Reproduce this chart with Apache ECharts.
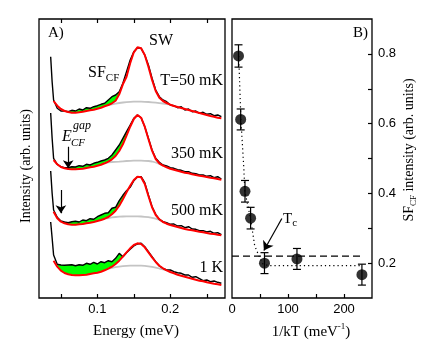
<!DOCTYPE html>
<html>
<head>
<meta charset="utf-8">
<script src="https://cdn.jsdelivr.net/npm/echarts@6/dist/echarts.min.js"></script>
<style>
  html, body { margin: 0; padding: 0; background: #fff; }
  #chart { width: 436px; height: 357px; }
</style>
</head>
<body>
<div id="chart"></div>
<script>
// ---- panel A : spectra (energy in meV, intensity in arb. units, already offset) ----
const energy = [0.036, 0.038, 0.040, 0.045, 0.050, 0.055, 0.060, 0.065, 0.070, 0.075,
  0.080, 0.085, 0.090, 0.095, 0.100, 0.105, 0.110, 0.115, 0.120, 0.125,
  0.130, 0.135, 0.140, 0.145, 0.150, 0.155, 0.160, 0.165, 0.170, 0.175,
  0.180, 0.185, 0.190, 0.195, 0.200, 0.205, 0.210, 0.215, 0.220, 0.225,
  0.230, 0.235, 0.240, 0.245, 0.250, 0.255, 0.260, 0.265, 0.270]

const data50mK = [243.3, 218.3, 200, 191.7, 189, 189, 188.3, 189.7, 189, 191,
  190, 192.3, 191.7, 193.3, 194.3, 195.7, 196.7, 200, 203.3, 205,
  208.3, 216.7, 228.3, 240, 248.3, 252.3, 251.7, 245, 235, 221.7,
  210, 203.3, 200, 198.3, 195, 194.3, 192.3, 193.3, 190, 191,
  188.3, 189, 186.7, 187.7, 185.7, 186.3, 184.3, 185, 183.3]
const fit50mK = [null, null, 199, 194.3, 191, 189, 188, 187.3, 187.3, 187.7,
  188.3, 189, 189.7, 190.3, 191.3, 192.3, 193.7, 195, 196.7, 199.3,
  205.7, 215.7, 223.3, 236.7, 247.7, 252.7, 251.7, 245, 233.3, 220,
  209, 202.3, 199, 197, 195.3, 194, 193, 192, 191, 190,
  189, 188, 187, 186, 185, 184, 183.3, 182.3, 181.7]
const bg50mK = [195, 195.7, 196.3, 197, 197.5, 197.9, 198.2, 198.3, 198.4, 198.3,
  198.2, 198, 197.7, 197.3, 196.9, 196.5, 196, 195.3]

const data350mK = [187, 161.7, 141.7, 135.7, 133.3, 132.3, 132.3, 133.3, 133, 134.3,
  133.7, 135.7, 135, 136.7, 137.7, 139, 140, 141.7, 145, 150,
  155, 161.7, 168.3, 175, 181.7, 185, 182.3, 173.3, 161.7, 150,
  141.7, 137.7, 135, 134, 132.3, 131.7, 130.3, 129.7, 128.3, 128.3,
  126.7, 126.3, 125, 125, 123.7, 124.3, 122.3, 123.3, 121]
const fit350mK = [null, null, 140, 135.7, 133, 131.7, 131, 130.7, 130.7, 131,
  131.3, 132, 132.7, 133.3, 134.3, 135.3, 136.7, 138.3, 140.7, 144,
  149, 155.7, 164.3, 173.3, 181, 185, 182.3, 173.3, 161, 149.3,
  141, 136.7, 134.3, 132.7, 131.3, 130.3, 129.3, 128.3, 127.3, 126.7,
  125.7, 125, 124.3, 123.7, 123, 122.3, 121.7, 121, 120.3]
const bg350mK = [136.7, 137.7, 138, 138.2, 138.4, 138.7, 139, 139.2, 139.3, 139.4,
  139.3, 139.2, 139, 138.5, 137.5, 136, 134.3]

const data500mK = [129, 106.7, 90, 82.7, 79, 78, 77.3, 78.3, 78.7, 78,
  80, 79.3, 81.3, 80.7, 83.3, 85, 86.7, 87.3, 91.7, 92.7,
  99.3, 104.7, 109.3, 112.7, 119.3, 123.3, 123.3, 117.3, 105, 93.3,
  85.7, 80.7, 78.3, 77.3, 75.7, 76, 74, 74.3, 72.3, 73.3,
  71, 70.7, 69.3, 69.3, 68, 68.7, 66.7, 67.3, 65.3]
const fit500mK = [null, null, 88.3, 81.7, 78.3, 76.7, 75.7, 75.3, 75.3, 75.7,
  76, 76.7, 77.3, 78, 79, 80, 81.3, 83, 85.7, 89.3,
  94.3, 100.7, 107.7, 114.3, 120, 123.3, 122.7, 116, 104, 92.7,
  85, 80.7, 78, 76.3, 75, 74, 73, 72, 71, 70.3,
  69.7, 69, 68.3, 67.7, 67, 66.3, 66, 65.3, 64.7]
const bg500mK = [81.3, 82, 82.6, 83, 83.3, 83.5, 83.6, 83.7, 83.7, 83.6,
  83.5, 83.2, 82.8, 82.2, 81.3, 80, 78]

const data1K = [78, 62, 45, 35.7, 35, 34.7, 35, 35.3, 34.3, 35.3,
  34.7, 36.7, 35.7, 37.7, 36, 38.3, 37.3, 39.3, 38.3, 41.7,
  46.7, 43.3, 47.3, 50.7, 54, 56, 56.7, 53.3, 48.3, 43.3,
  38.3, 34, 31.7, 30, 30, 28.3, 27.3, 26.7, 25, 25,
  22.7, 23.3, 21.3, 19.3, 20, 18.3, 19, 17.7, 16.7]
const fit1K = [null, null, 39.3, 33.3, 29.3, 27, 25.7, 25, 24.7, 24.7,
  25, 25.3, 26, 26.7, 27.3, 28.3, 29.7, 31.3, 33.3, 36,
  39.3, 43.3, 47.7, 51.7, 55, 56.7, 56, 52.7, 47.7, 42.7,
  38, 34.3, 31.7, 29.7, 28, 26.7, 25.3, 24.3, 23.3, 22.3,
  21.3, 20.3, 19.3, 18.7, 17.7, 17, 16.3, 15.7, 15]
const bg1K = [31.3, 32.2, 32.9, 33.4, 33.8, 34.1, 34.3, 34.4, 34.4, 34.3,
  34.1, 33.7, 33.1, 32.4, 31.5, 30.7, 29.7]

// background start energies and the SF_CF (green) energy windows
const bgFrom = [0.115, 0.110, 0.110, 0.115]
const greenFrom = [0.050, 0.045, 0.045, 0.045]
const greenTo = [0.135, 0.145, 0.140, 0.135]

// E_CF^gap arrows (energy, intensity from -> to)
const gapArrowE = [0.060, 0.050]
const gapArrowFrom = [153.3, 110]
const gapArrowTo = [131.7, 86.7]

// ---- panel B : SF_CF intensity vs 1/kT ----
const invT = [11.6, 15.5, 23.2, 33.2, 58, 116, 232]
const sfInt = [0.794, 0.612, 0.406, 0.329, 0.2, 0.212, 0.167]
const sfErr = [0.032, 0.03, 0.031, 0.031, 0.03, 0.03, 0.03]
const guideX = [12, 15.9, 21.2, 22.9, 33, 40.5, 48, 55, 65, 232]
const guideY = [0.794, 0.612, 0.47, 0.406, 0.329, 0.25, 0.221, 0.198, 0.193, 0.193]
const levelX = [0, 232]
const levelY = [0.22, 0.22]
const tcArrowFrom = [89, 0.328]
const tcArrowTo = [57, 0.236]

const SERIF = '"Liberation Serif", "DejaVu Serif", serif'
const SANS = '"Liberation Sans", Arial, sans-serif'

const spectra = [
  { data: data50mK, fit: fit50mK, bg: bg50mK },
  { data: data350mK, fit: fit350mK, bg: bg350mK },
  { data: data500mK, fit: fit500mK, bg: bg500mK },
  { data: data1K, fit: fit1K, bg: bg1K }
]

const idxOf = (e) => energy.findIndex(v => Math.abs(v - e) < 1e-6)

const chart = echarts.init(document.getElementById('chart'), null, { renderer: 'canvas' })

const series = []

// grey backgrounds
spectra.forEach((s, k) => {
  const i0 = idxOf(bgFrom[k])
  series.push({
    type: 'line', xAxisIndex: 0, yAxisIndex: 0,
    data: s.bg.map((v, i) => [energy[i0 + i], v]),
    symbol: 'none', silent: true,
    lineStyle: { color: '#c4c4c4', width: 1.8 }
  })
})

// green SF_CF area between data and fit
series.push({
  type: 'custom', xAxisIndex: 0, yAxisIndex: 0,
  data: spectra.map((s, k) => [greenFrom[k], s.fit[idxOf(greenFrom[k])]]),
  encode: { x: 0, y: 1 },
  silent: true,
  renderItem: (params, api) => {
    const k = params.dataIndex
    const s = spectra[k]
    const i0 = idxOf(greenFrom[k])
    const i1 = idxOf(greenTo[k])
    const top = []
    const bot = []
    for (let i = i0; i <= i1; i++) {
      top.push(api.coord([energy[i], Math.max(s.data[i], s.fit[i])]))
      bot.push(api.coord([energy[i], s.fit[i]]))
    }
    return {
      type: 'polygon',
      shape: { points: top.concat(bot.reverse()) },
      style: { fill: '#00ff00', stroke: null }
    }
  }
})

// measured spectra (black)
spectra.forEach(s => {
  series.push({
    type: 'line', xAxisIndex: 0, yAxisIndex: 0,
    data: energy.map((e, i) => [e, s.data[i]]),
    symbol: 'none', silent: true,
    lineStyle: { color: '#000', width: 1.4 }
  })
})

// fits (red)
spectra.forEach(s => {
  series.push({
    type: 'line', xAxisIndex: 0, yAxisIndex: 0,
    data: energy.map((e, i) => [e, s.fit[i]]),
    symbol: 'none', silent: true,
    lineStyle: { color: '#ff0000', width: 2 }
  })
})

// gap arrows
series.push({
  type: 'lines', coordinateSystem: 'cartesian2d', xAxisIndex: 0, yAxisIndex: 0,
  data: gapArrowE.map((e, i) => ({ coords: [[e, gapArrowFrom[i]], [e, gapArrowTo[i]]] })),
  symbol: ['none', 'arrow'], symbolSize: [6, 8], silent: true,
  lineStyle: { color: '#000', width: 1.2, opacity: 1 }
})

// panel B
series.push({
  type: 'line', xAxisIndex: 1, yAxisIndex: 1,
  data: levelX.map((x, i) => [x, levelY[i]]),
  symbol: 'none', silent: true,
  lineStyle: { color: '#000', width: 1.2, type: [7, 4] }
})
series.push({
  type: 'line', xAxisIndex: 1, yAxisIndex: 1,
  data: guideX.map((x, i) => [x, guideY[i]]),
  symbol: 'none', silent: true,
  lineStyle: { color: '#000', width: 1.2, type: [1.2, 3] }
})
series.push({
  type: 'custom', xAxisIndex: 1, yAxisIndex: 1,
  data: invT.map((x, i) => [x, sfInt[i], sfErr[i]]),
  encode: { x: 0, y: 1 },
  silent: true,
  renderItem: (params, api) => {
    const x = api.value(0), y = api.value(1), e = api.value(2)
    const hi = api.coord([x, y + e])
    const lo = api.coord([x, y - e])
    const w = 4
    const st = { stroke: '#000', lineWidth: 1.2 }
    return {
      type: 'group',
      children: [
        { type: 'line', shape: { x1: hi[0], y1: hi[1], x2: lo[0], y2: lo[1] }, style: st },
        { type: 'line', shape: { x1: hi[0] - w, y1: hi[1], x2: hi[0] + w, y2: hi[1] }, style: st },
        { type: 'line', shape: { x1: lo[0] - w, y1: lo[1], x2: lo[0] + w, y2: lo[1] }, style: st }
      ]
    }
  }
})
series.push({
  type: 'scatter', xAxisIndex: 1, yAxisIndex: 1,
  data: invT.map((x, i) => [x, sfInt[i]]),
  symbol: 'circle', symbolSize: 11, silent: true,
  itemStyle: { color: '#000' }
})
series.push({
  type: 'lines', coordinateSystem: 'cartesian2d', xAxisIndex: 1, yAxisIndex: 1,
  data: [{ coords: [tcArrowFrom, tcArrowTo] }],
  symbol: ['none', 'arrow'], symbolSize: [6, 9], silent: true,
  lineStyle: { color: '#000', width: 1.2, opacity: 1 }
})

const tickStyle = { show: true, inside: true, length: 4, lineStyle: { color: '#000', width: 1.2 } }
const labelStyle = { color: '#000', fontFamily: SANS, fontSize: 13 }
const noLine = { show: false, onZero: false }

const option = {
  animation: false,
  backgroundColor: '#fff',
  grid: [
    { left: 39, top: 19, width: 186, height: 279, show: true, borderColor: '#000', borderWidth: 1.3 },
    { left: 232, top: 19, width: 140, height: 279, show: true, borderColor: '#000', borderWidth: 1.3 }
  ],
  xAxis: [
    {
      type: 'value', gridIndex: 0, min: 0.02, max: 0.275,
      axisLine: noLine, splitLine: { show: false },
      axisTick: Object.assign({}, tickStyle, { customValues: [0.05, 0.1, 0.15, 0.2, 0.25] }),
      axisLabel: Object.assign({}, labelStyle, { margin: 5, customValues: [0.1, 0.2], formatter: v => v.toFixed(1) })
    },
    {
      type: 'value', gridIndex: 1, min: 0, max: 250,
      axisLine: noLine, splitLine: { show: false },
      axisTick: Object.assign({}, tickStyle, { customValues: [50, 100, 150, 200] }),
      axisLabel: Object.assign({}, labelStyle, { margin: 5, customValues: [0, 100, 200] })
    },
    {
      type: 'value', gridIndex: 0, position: 'top', min: 0.02, max: 0.275,
      axisLine: noLine, splitLine: { show: false },
      axisTick: Object.assign({}, tickStyle, { customValues: [0.05, 0.1, 0.15, 0.2, 0.25] }),
      axisLabel: { show: false }
    }
  ],
  yAxis: [
    {
      type: 'value', gridIndex: 0, min: 2, max: 281,
      axisLine: noLine, splitLine: { show: false },
      axisTick: { show: false }, axisLabel: { show: false }
    },
    {
      type: 'value', gridIndex: 1, position: 'right', min: 0.1, max: 0.9,
      axisLine: noLine, splitLine: { show: false },
      axisTick: Object.assign({}, tickStyle, { customValues: [0.2, 0.3, 0.4, 0.5, 0.6, 0.7, 0.8] }),
      axisLabel: Object.assign({}, labelStyle, { margin: 6, customValues: [0.2, 0.4, 0.6, 0.8], formatter: v => v.toFixed(1) })
    }
  ],
  graphic: [
    { type: 'text', x: 48, y: 33, style: { text: 'A)', fontFamily: SERIF, fontSize: 15, fill: '#000', verticalAlign: 'middle' } },
    { type: 'text', x: 368, y: 33, style: { text: 'B)', fontFamily: SERIF, fontSize: 15, fill: '#000', align: 'right', verticalAlign: 'middle' } },
    { type: 'text', x: 161, y: 41, style: { text: 'SW', fontFamily: SERIF, fontSize: 16, fill: '#000', align: 'center', verticalAlign: 'middle' } },
    {
      type: 'text', x: 88, y: 73,
      style: {
        text: '{m|SF}{s|CF}', verticalAlign: 'middle',
        rich: {
          m: { fontFamily: SERIF, fontSize: 16, lineHeight: 22, fill: '#000' },
          s: { fontFamily: SERIF, fontSize: 11, lineHeight: 11, verticalAlign: 'bottom', fill: '#000' }
        }
      }
    },
    { type: 'text', x: 223, y: 81, style: { text: 'T=50 mK', fontFamily: SERIF, fontSize: 16, fill: '#000', align: 'right', verticalAlign: 'middle' } },
    { type: 'text', x: 223, y: 154, style: { text: '350 mK', fontFamily: SERIF, fontSize: 16, fill: '#000', align: 'right', verticalAlign: 'middle' } },
    { type: 'text', x: 223, y: 211, style: { text: '500 mK', fontFamily: SERIF, fontSize: 16, fill: '#000', align: 'right', verticalAlign: 'middle' } },
    { type: 'text', x: 223, y: 268, style: { text: '1 K', fontFamily: SERIF, fontSize: 16, fill: '#000', align: 'right', verticalAlign: 'middle' } },
    { type: 'text', x: 62, y: 137, style: { text: 'E', fontFamily: SERIF, fontStyle: 'italic', fontSize: 16, fill: '#000', verticalAlign: 'middle' } },
    { type: 'text', x: 73, y: 126, style: { text: 'gap', fontFamily: SERIF, fontStyle: 'italic', fontSize: 12, fill: '#000', verticalAlign: 'middle' } },
    { type: 'text', x: 71, y: 143, style: { text: 'CF', fontFamily: SERIF, fontStyle: 'italic', fontSize: 11, fill: '#000', verticalAlign: 'middle' } },
    {
      type: 'text', x: 283, y: 219,
      style: {
        text: '{m|T}{s|c}', verticalAlign: 'middle',
        rich: {
          m: { fontFamily: SERIF, fontSize: 15, lineHeight: 20, fill: '#000' },
          s: { fontFamily: SERIF, fontSize: 11, lineHeight: 11, verticalAlign: 'bottom', fill: '#000' }
        }
      }
    },
    { type: 'text', x: 136, y: 331, style: { text: 'Energy (meV)', fontFamily: SERIF, fontSize: 15, fill: '#000', align: 'center', verticalAlign: 'middle' } },
    {
      type: 'text', x: 311, y: 332,
      style: {
        text: '{m|1/kT (meV}{s|-1}{m|)}', align: 'center', verticalAlign: 'middle',
        rich: {
          m: { fontFamily: SERIF, fontSize: 15, lineHeight: 20, fill: '#000' },
          s: { fontFamily: SERIF, fontSize: 9, lineHeight: 9, verticalAlign: 'top', fill: '#000' }
        }
      }
    },
    { type: 'text', x: 26, y: 166, rotation: Math.PI / 2, style: { text: 'Intensity (arb. units)', fontFamily: SERIF, fontSize: 14, fill: '#000', align: 'center', verticalAlign: 'middle' } },
    {
      type: 'text', x: 409, y: 150, rotation: Math.PI / 2,
      style: {
        text: '{m|SF}{s|CF}{m| intensity (arb. units)}', align: 'center', verticalAlign: 'middle',
        rich: {
          m: { fontFamily: SERIF, fontSize: 14, lineHeight: 19, fill: '#000' },
          s: { fontFamily: SERIF, fontSize: 9, lineHeight: 9, verticalAlign: 'bottom', fill: '#000' }
        }
      }
    }
  ],
  series: series
}

chart.setOption(option)
</script>
</body>
</html>
